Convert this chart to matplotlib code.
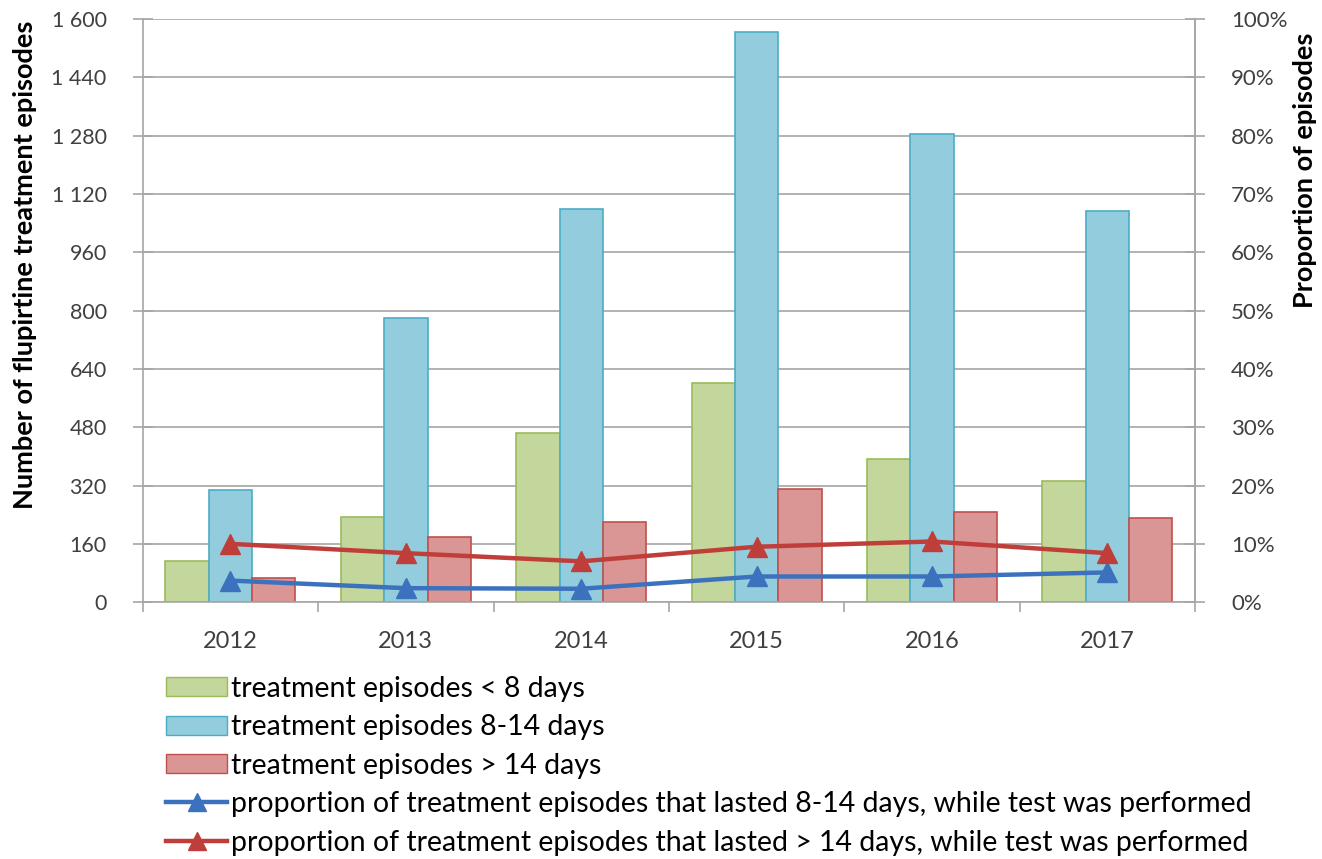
import matplotlib
matplotlib.use("Agg")
import matplotlib.pyplot as plt
from matplotlib.patches import Patch
from matplotlib.lines import Line2D
import numpy as np

plt.rcParams['font.family'] = ['Lato', 'DejaVu Sans']

years = ["2012", "2013", "2014", "2015", "2016", "2017"]
short_eps = [113, 234, 464, 601, 394, 331]       # < 8 days
mid_eps = [307, 780, 1078, 1564, 1285, 1072]     # 8-14 days
long_eps = [67, 179, 220, 311, 246, 231]         # > 14 days
prop_mid_tested = [3.7, 2.4, 2.3, 4.4, 4.4, 5.1]     # %
prop_long_tested = [10.0, 8.4, 7.0, 9.5, 10.4, 8.4]  # %

left_ticks = [0, 160, 320, 480, 640, 800, 960, 1120, 1280, 1440, 1600]
left_labels = ["0", "160", "320", "480", "640", "800", "960", "1 120", "1 280", "1 440", "1 600"]
right_ticks = [0, 10, 20, 30, 40, 50, 60, 70, 80, 90, 100]
right_labels = [f"{t}%" for t in right_ticks]

labels = ["treatment episodes < 8 days",
          "treatment episodes 8-14 days",
          "treatment episodes > 14 days",
          "proportion of treatment episodes that lasted 8-14 days, while test was performed",
          "proportion of treatment episodes that lasted > 14 days, while test was performed"]

green_fc, green_ec = "#c3d69b", "#9bbb59"
blue_fc, blue_ec = "#93cddd", "#4bacc6"
red_fc, red_ec = "#d99694", "#c0504d"
line_blue, line_red = "#3c72bd", "#c03e3a"
grid_col = "#a6a6a6"
text_col = "#404040"

fig = plt.figure(figsize=(13.22, 8.59), dpi=100)
ax = fig.add_axes([0.108, 0.299, 0.796, 0.679])

x = np.arange(len(years))
w = 0.247
ax.bar(x - w, short_eps, w, color=green_fc, edgecolor=green_ec, linewidth=1.2, zorder=2)
ax.bar(x, mid_eps, w, color=blue_fc, edgecolor=blue_ec, linewidth=1.2, zorder=2)
ax.bar(x + w, long_eps, w, color=red_fc, edgecolor=red_ec, linewidth=1.2, zorder=2)

ax.set_xlim(-0.5, len(years) - 0.5)
ax.set_ylim(0, 1600)
ax.set_yticks(left_ticks)
ax.set_yticklabels(left_labels)
ax.set_xticks(x)
ax.set_xticklabels(years)
ax.set_xticks(np.arange(len(years) + 1) - 0.5, minor=True)
ax.tick_params(axis='x', which='major', length=0, labelsize=17, colors=text_col, pad=21)
ax.tick_params(axis='x', which='minor', length=7, width=1.2, color=grid_col, direction='out')
ax.tick_params(axis='y', length=14, width=1.2, direction='inout', color=grid_col,
               labelsize=15.5, labelcolor=text_col, pad=19)
ax.yaxis.grid(True, color=grid_col, linewidth=1.2, zorder=0)
ax.set_axisbelow(True)
ax.spines['top'].set_visible(False)
for s in ['left', 'right', 'bottom']:
    ax.spines[s].set_color(grid_col)
    ax.spines[s].set_linewidth(1.2)
ax.set_ylabel("Number of flupirtine treatment episodes", fontsize=19.5, fontweight='bold',
              color='black')
ax.yaxis.set_label_coords(-0.1008, 0.578)

ax2 = ax.twinx()
ax2.set_ylim(0, 100)
ax2.set_yticks(right_ticks)
ax2.set_yticklabels(right_labels)
ax2.tick_params(axis='y', length=14, width=1.2, direction='inout', color=grid_col,
                labelsize=16, labelcolor=text_col, pad=19)
for s in ['top', 'left', 'bottom']:
    ax2.spines[s].set_visible(False)
ax2.spines['right'].set_color(grid_col)
ax2.spines['right'].set_linewidth(1.2)
ax2.plot(x, prop_mid_tested, color=line_blue, linewidth=3.2, marker='^', markersize=15, zorder=3)
ax2.plot(x, prop_long_tested, color=line_red, linewidth=3.2, marker='^', markersize=15, zorder=3)
ax2.set_ylabel("Proportion of episodes", fontsize=19.5, fontweight='bold', color='black')
ax2.yaxis.set_label_coords(1.0932, 0.741)

handles = [
    Patch(facecolor=green_fc, edgecolor=green_ec),
    Patch(facecolor=blue_fc, edgecolor=blue_ec),
    Patch(facecolor=red_fc, edgecolor=red_ec),
    Line2D([], [], color=line_blue, linewidth=3.2, marker='^', markersize=13),
    Line2D([], [], color=line_red, linewidth=3.2, marker='^', markersize=13),
]
fig.legend(handles, labels, loc='upper left', bbox_to_anchor=(0.1256, 0.2135),
           frameon=False, fontsize=20.5, labelcolor='black', handlelength=2.15,
           handleheight=0.65, handletextpad=0.14, labelspacing=0.44,
           borderpad=0, borderaxespad=0)

fig.savefig("out.png", dpi=100)
